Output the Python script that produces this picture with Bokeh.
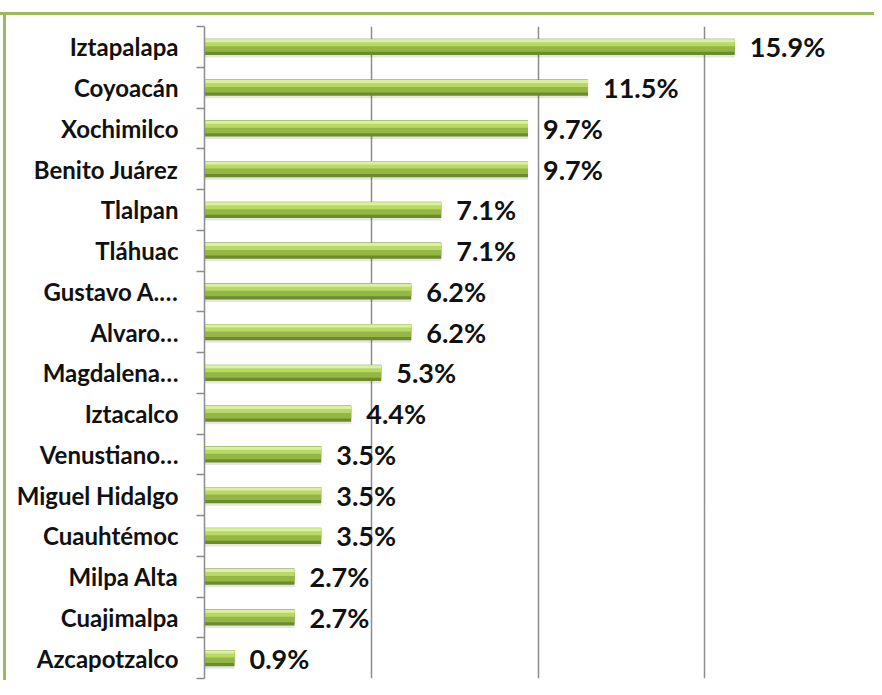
from bokeh.plotting import figure
from bokeh.models import ColumnDataSource, FixedTicker, Range1d
from bokeh.transform import dodge
from bokeh.core.properties import value
from bokeh.embed import file_html
from bokeh.resources import INLINE

# Data (top to bottom as in the chart)
categories = ["Iztapalapa", "Coyoacán", "Xochimilco", "Benito Juárez", "Tlalpan",
              "Tláhuac", "Gustavo A.…", "Alvaro…", "Magdalena…", "Iztacalco",
              "Venustiano…", "Miguel Hidalgo", "Cuauhtémoc", "Milpa Alta",
              "Cuajimalpa", "Azcapotzalco"]
values = [15.9, 11.5, 9.7, 9.7, 7.1, 7.1, 6.2, 6.2, 5.3, 4.4, 3.5, 3.5, 3.5, 2.7, 2.7, 0.9]
grid_ticks = [5, 10, 15, 20]

n = len(categories)
ypos = [n - 1 - i for i in range(n)]
src = ColumnDataSource(dict(y=ypos, v=values, lab=[f"{v}%" for v in values]))

green = "#9BBB59"
bg = (f"linear-gradient({green},{green}) 0 12px / 100% 3px no-repeat, "
      f"linear-gradient({green},{green}) 3px 12px / 3px 100% no-repeat, white")

p = figure(width=874, height=680, output_backend="svg", toolbar_location=None,
           x_range=Range1d(0, 20), y_range=Range1d(-0.5, n - 0.5),
           min_border_left=204, min_border_right=3, min_border_top=26, min_border_bottom=2,
           styles={"background": bg})
p.outline_line_color = None
p.background_fill_color = "white"
p.border_fill_alpha = 0

# Axes
p.xaxis.visible = False
p.ygrid.visible = False
p.xgrid.ticker = FixedTicker(ticks=grid_ticks)
p.xgrid.grid_line_color = "#8c8c8c"
p.xgrid.grid_line_width = 1.5

ax = p.yaxis[0]
ax.ticker = FixedTicker(ticks=ypos, minor_ticks=[i - 0.5 for i in range(n + 1)])
ax.major_label_overrides = {y: c for y, c in zip(ypos, categories)}
ax.major_tick_in = 0
ax.major_tick_out = 0
ax.minor_tick_in = 0
ax.minor_tick_out = 8
ax.minor_tick_line_color = "#8c8c8c"
ax.minor_tick_line_width = 1.5
ax.axis_line_color = "#8c8c8c"
ax.axis_line_width = 1.5
ax.major_label_standoff = 18
ax.major_label_text_font = "Lato"
ax.major_label_text_font_style = "bold"
ax.major_label_text_font_size = "24px"
ax.major_label_text_color = "#111111"

# Bars (layered to imitate the cylinder look)
p.hbar(y=dodge("y", -0.08, range=p.y_range), right="v", left=0, height=0.36,
       source=src, fill_color="black", fill_alpha=0.10, line_color=None)
p.hbar(y="y", right="v", left=0, height=0.40, source=src,
       fill_color="#6c8a32", line_color=None)
p.hbar(y=dodge("y", 0.035, range=p.y_range), right="v", left=0, height=0.31, source=src,
       fill_color="#93b645", line_color=None)
p.hbar(y=dodge("y", 0.10, range=p.y_range), right="v", left=0, height=0.17, source=src,
       fill_color="#b8d964", line_color=None)
p.hbar(y=dodge("y", 0.15, range=p.y_range), right="v", left=0, height=0.07, source=src,
       fill_color="#dcf19e", line_color=None)

# Value labels
p.text(x="v", y="y", text="lab", source=src, x_offset=15, text_baseline="middle",
       text_align="left", text_font=value("Lato"), text_font_style="bold",
       text_font_size="27px", text_color="#111111")

open("out.html", "w").write(file_html(p, INLINE))
